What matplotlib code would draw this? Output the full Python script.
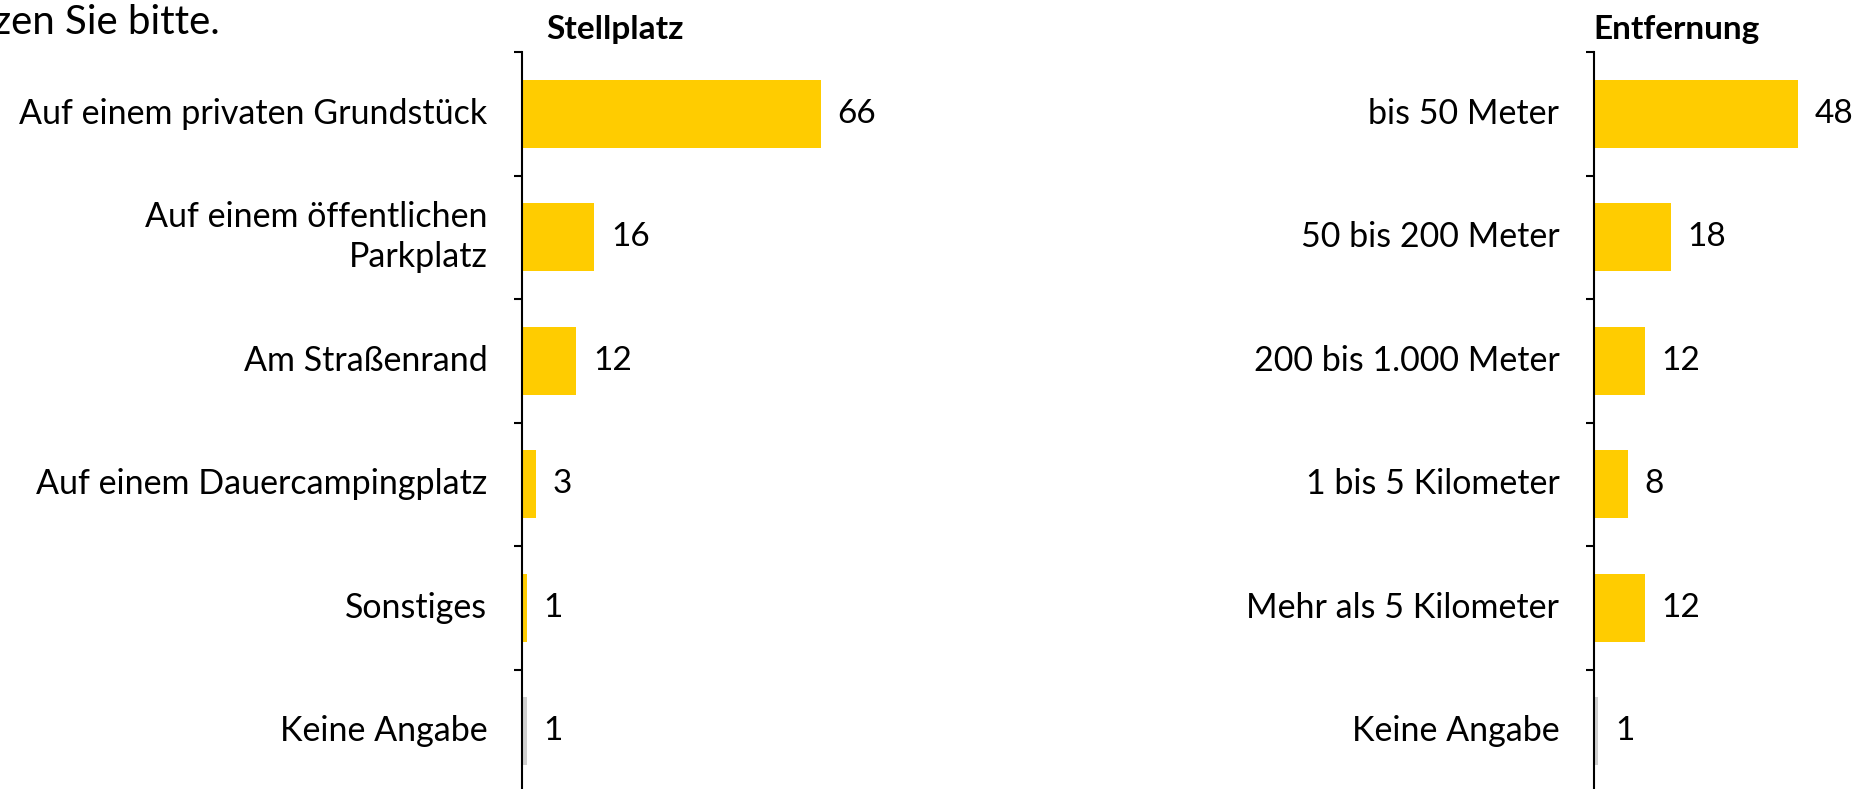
import matplotlib
matplotlib.use("Agg")
import matplotlib.pyplot as plt
import numpy as np

plt.rcParams['font.family'] = ['Lato', 'DejaVu Sans']

stell_labels = ["Auf einem privaten Grundstück", "Auf einem öffentlichen\nParkplatz",
                "Am Straßenrand", "Auf einem Dauercampingplatz", "Sonstiges", "Keine Angabe"]
stell_values = [66, 16, 12, 3, 1, 1]

entf_labels = ["bis 50 Meter", "50 bis 200 Meter", "200 bis 1.000 Meter",
               "1 bis 5 Kilometer", "Mehr als 5 Kilometer", "Keine Angabe"]
entf_values = [48, 18, 12, 8, 12, 1]

YELLOW = "#FFCC00"
GREY = "#D0D0D0"

W, H = 1856, 789
fig = plt.figure(figsize=(W / 100, H / 100), dpi=100)

def make_axes(left_px, width_px, top_px, bottom_px):
    return fig.add_axes([left_px / W, 1 - bottom_px / H, width_px / W, (bottom_px - top_px) / H])

def draw(ax, labels, values, xmax):
    n = len(values)
    y = np.arange(n)
    colors = [YELLOW] * (n - 1) + [GREY]
    ax.barh(y, values, height=0.55, color=colors, zorder=2)
    ax.set_ylim(n - 0.5, -0.5)
    ax.set_xlim(0, xmax)
    for s in ["top", "right", "bottom"]:
        ax.spines[s].set_visible(False)
    ax.spines["left"].set_linewidth(1.5)
    ax.set_xticks([])
    ax.set_yticks(np.arange(n + 1) - 0.5)
    ax.set_yticklabels([])
    ax.tick_params(axis="y", direction="out", length=6, width=1.5)
    for yi, (lab, v) in enumerate(zip(labels, values)):
        ax.annotate(str(v), xy=(v, yi), xytext=(12, 0), textcoords="offset points",
                    ha="left", va="center", fontsize=24)
        ax.annotate(lab, xy=(0, yi), xytext=(-25, 0), textcoords="offset points",
                    ha="right", va="center", fontsize=24.5, linespacing=1.3,
                    annotation_clip=False)

ax1 = make_axes(522, 600, 52, 793)
draw(ax1, stell_labels, stell_values, 600 / 4.53)
ax2 = make_axes(1594, 262, 52, 793)
draw(ax2, entf_labels, entf_values, 262 / 4.26)

fig.text(615 / W, 1 - 30 / H, "Stellplatz", ha="center", va="center", fontsize=24, fontweight="bold")
fig.text(1677 / W, 1 - 30 / H, "Entfernung", ha="center", va="center", fontsize=24, fontweight="bold")
fig.text(-0.004, 1 - 22 / H, "zen Sie bitte.", ha="left", va="center", fontsize=29)

fig.savefig("out.png", dpi=100)
